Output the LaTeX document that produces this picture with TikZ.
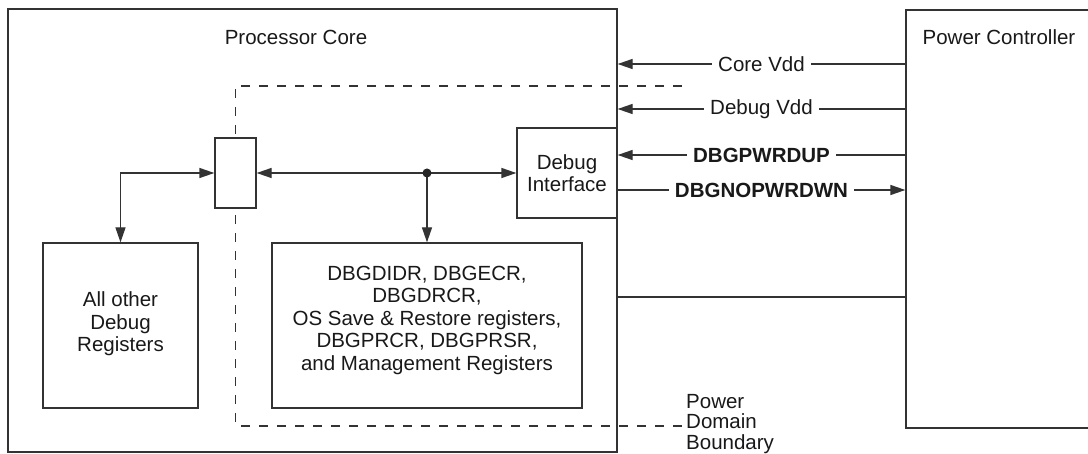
\documentclass[tikz,border=0pt]{standalone}
\usepackage{fontspec}
\setmainfont{Liberation Sans}
\usetikzlibrary{arrows.meta}
\begin{document}
\begin{tikzpicture}[x=1pt,y=-1pt,
  every node/.style={font=\fontsize{20.5}{22.5}\selectfont, text=black!90},
  line/.style={line width=1.3pt, draw=black!80},
  arr/.style={line, -{Triangle[length=15pt,width=10pt]}},
  darr/.style={line, {Triangle[length=15pt,width=10pt]}-{Triangle[length=15pt,width=10pt]}},
  box/.style={draw=black!80, line width=1.3pt, fill=white, inner sep=0pt, align=center},
  lbl/.style={fill=white, inner xsep=6pt, inner ysep=2pt},
  bound/.style={line width=1.2pt, draw=black!80, dash pattern=on 9pt off 9pt}]
\useasboundingbox (0,0) rectangle (1088,454);
\clip (0,0) rectangle (1088,454);
\fill[white] (0,0) rectangle (1088,454);

% outer boxes
\node[box, fill=none, minimum width=609pt, minimum height=443pt] (core) at (312.5,230.5) {};
\node[box, fill=none, minimum width=194pt, minimum height=418pt] (pc) at (1003,219) {};
\node (coret) at (296,37) {Processor Core};
\node (pct) at (999,37) {Power Controller};

% power domain boundary
\draw[bound] (682,86) -- (235.5,86) -- (235.5,426) -- (686,426);
\node[anchor=west, align=left, inner sep=0pt, font=\fontsize{20.5}{20.5}\selectfont] (pdb) at (686,424) {Power\\Domain\\Boundary};

% inner boxes
\node[box, minimum width=100pt, minimum height=90pt] (dbgif) at (567,173) {Debug\\Interface};
\node[box, minimum width=41pt, minimum height=70pt] (mux) at (235.5,173) {};
\node[box, minimum width=155pt, minimum height=165pt] (allother) at (120.5,325.5) {};
\node[align=center] (allothert) at (120.5,324) {All other\\Debug\\Registers};
\node[box, minimum width=310pt, minimum height=165pt] (regs) at (427,325.5) {};
\node[align=center] (regst) at (427,320) {DBGDIDR, DBGECR,\\DBGDRCR,\\OS Save \& Restore registers,\\DBGPRCR, DBGPRSR,\\and Management Registers};

% internal connectors
\coordinate (dot) at (427,173);
\draw[darr] (mux.west) -| (allother.north);
\draw[darr] (mux.east) -- (dbgif.west);
\draw[arr] (dot) -- (regs.north);
\fill[black!85] (dot) circle (4.5pt);

% signals between power controller and core
\draw[arr] (pc.west |- 0,64) -- node[lbl] (cv) {Core Vdd} (core.east |- 0,64);
\draw[arr] (pc.west |- 0,109) -- node[lbl] (dv) {Debug Vdd} (core.east |- 0,109);
\draw[arr] (pc.west |- 0,155) -- node[lbl, font=\fontsize{20.5}{22.5}\selectfont\bfseries] (pu) {DBGPWRDUP} (core.east |- 0,155);
\draw[arr] (core.east |- 0,190) -- node[lbl, font=\fontsize{20.5}{22.5}\selectfont\bfseries] (pd) {DBGNOPWRDWN} (pc.west |- 0,190);
\draw[line] (core.east |- 0,297) -- (pc.west |- 0,297);
\end{tikzpicture}
\end{document}
